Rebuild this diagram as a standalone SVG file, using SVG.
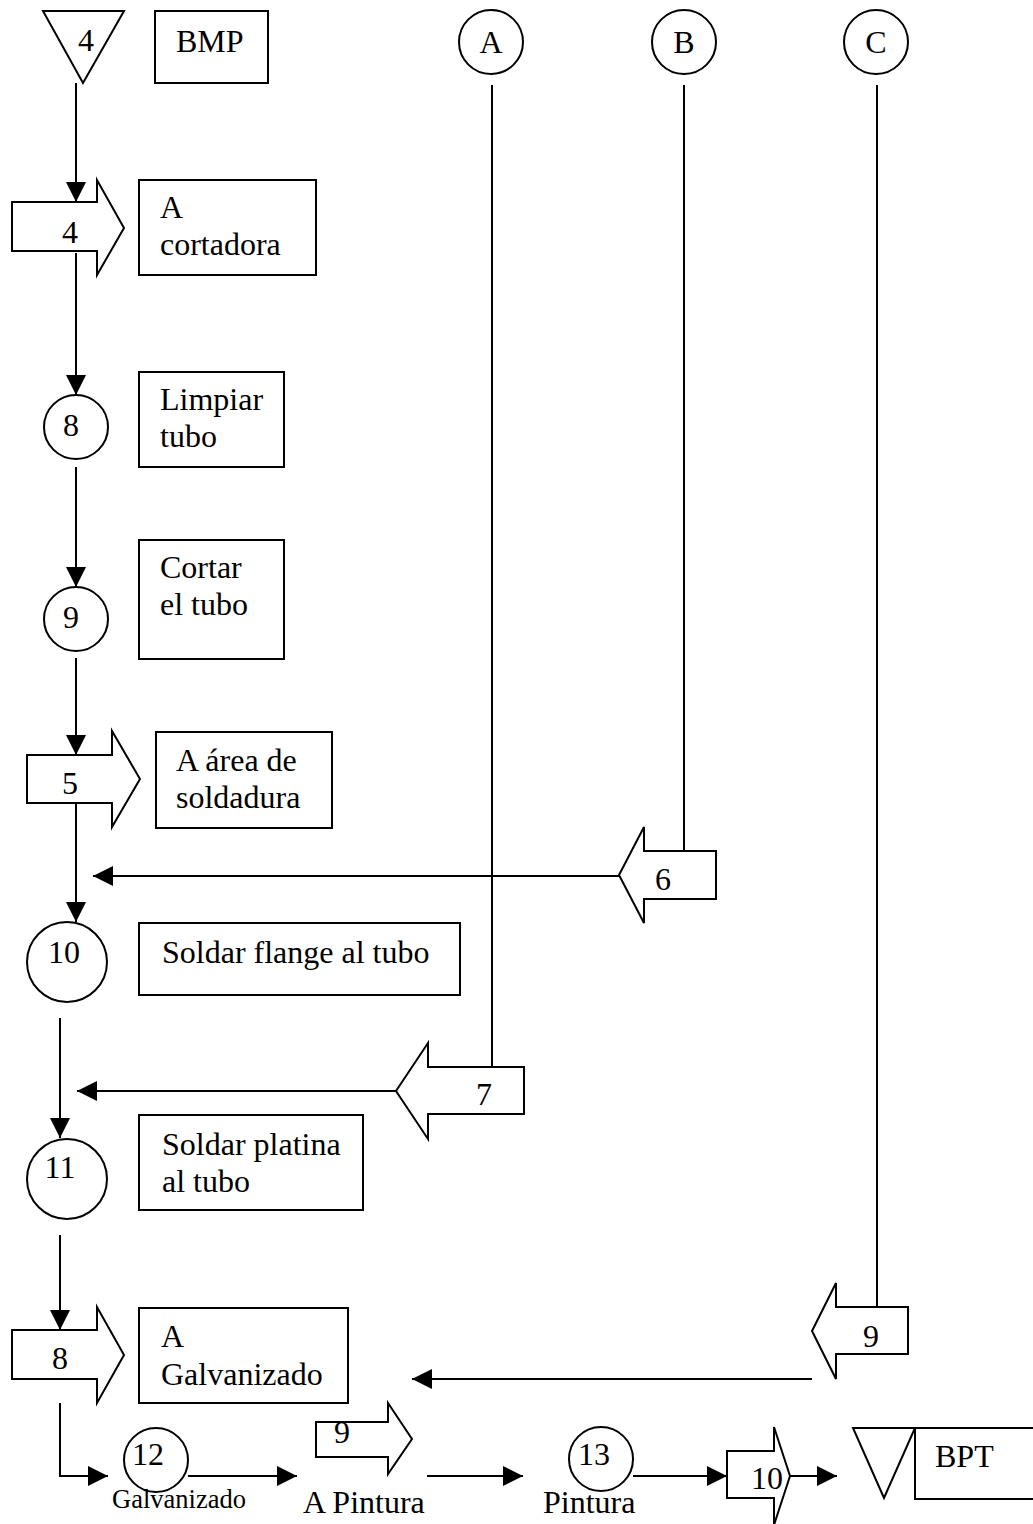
<svg xmlns="http://www.w3.org/2000/svg" width="1033" height="1524" viewBox="0 0 1033 1524">
  <style>
    .shape { fill: #fff; stroke: #000; stroke-width: 2; }
    .wire { fill: none; stroke: #000; stroke-width: 2; }
    .arr { marker-end: url(#head); }
    text { font-family: "Liberation Serif", "Times New Roman", serif; font-size: 32px; fill: #000; }
    .c { text-anchor: middle; }
    .small { font-size: 26.5px; }
  </style>
  <defs>
    <marker id="head" markerUnits="userSpaceOnUse" markerWidth="20" markerHeight="20" refX="20" refY="10" orient="auto">
      <path d="M0,0 L20,10 L0,20 Z" fill="#000"/>
    </marker>
  </defs>
  <rect width="1033" height="1524" fill="#fff"/>

  <!-- connectors -->
  <g id="connectors">
    <path class="wire arr" d="M76,83 V202"/>
    <path class="wire arr" d="M76,253 V395"/>
    <path class="wire arr" d="M76,467 V587"/>
    <path class="wire arr" d="M76,658 V755"/>
    <path class="wire arr" d="M76,803 V922"/>
    <path class="wire" d="M684,85 V851"/>
    <path class="wire arr" d="M619,876 H93"/>
    <path class="wire" d="M492,85 V1067"/>
    <path class="wire arr" d="M396,1091 H77"/>
    <path class="wire arr" d="M60,1018 V1138"/>
    <path class="wire arr" d="M60,1235 V1330"/>
    <path class="wire" d="M877,85 V1307"/>
    <path class="wire arr" d="M812,1379 H412"/>
    <path class="wire arr" d="M60,1403 V1476 H108"/>
    <path class="wire arr" d="M188,1476 H297"/>
    <path class="wire arr" d="M427,1476 H523"/>
    <path class="wire arr" d="M633,1476 H727"/>
    <path class="wire arr" d="M790,1476 H837"/>
  </g>

  <!-- storage: raw material -->
  <g id="store-bmp">
    <path class="shape" d="M43,11 H124 L83,83 Z"/>
    <text class="c" x="86" y="51">4</text>
    <rect class="shape" x="155" y="11" width="113" height="72"/>
    <text x="176" y="52">BMP</text>
  </g>

  <!-- off-page connectors -->
  <g id="conn-a">
    <circle class="shape" cx="491" cy="42" r="32"/>
    <text class="c" x="491" y="53">A</text>
  </g>
  <g id="conn-b">
    <circle class="shape" cx="684" cy="42" r="32"/>
    <text class="c" x="684" y="53">B</text>
  </g>
  <g id="conn-c">
    <circle class="shape" cx="876" cy="42" r="32"/>
    <text class="c" x="876" y="53">C</text>
  </g>

  <!-- transport 4 -->
  <g id="move-4">
    <path class="shape" d="M12,202 H97 V180 L124,228 L97,275 V251 H12 Z"/>
    <text class="c" x="70" y="243">4</text>
    <rect class="shape" x="139" y="180" width="177" height="95"/>
    <text x="160" y="218">A</text>
    <text x="160" y="255">cortadora</text>
  </g>

  <!-- operation 8 -->
  <g id="op-8">
    <circle class="shape" cx="76" cy="427" r="32"/>
    <text class="c" x="71" y="436">8</text>
    <rect class="shape" x="139" y="372" width="145" height="95"/>
    <text x="160" y="410">Limpiar</text>
    <text x="160" y="447">tubo</text>
  </g>

  <!-- operation 9 -->
  <g id="op-9">
    <circle class="shape" cx="76" cy="619" r="32"/>
    <text class="c" x="71" y="628">9</text>
    <rect class="shape" x="139" y="540" width="145" height="119"/>
    <text x="160" y="578">Cortar</text>
    <text x="160" y="615">el tubo</text>
  </g>

  <!-- transport 5 -->
  <g id="move-5">
    <path class="shape" d="M27,755 H112 V731 L140,779 L112,827 V803 H27 Z"/>
    <text class="c" x="70" y="794">5</text>
    <rect class="shape" x="156" y="732" width="176" height="96"/>
    <text x="176" y="771">A área de</text>
    <text x="176" y="808">soldadura</text>
  </g>

  <!-- transport 6 (from B) -->
  <g id="move-6">
    <path class="shape" d="M716,851 H644 V827 L619,875 L644,923 V899 H716 Z"/>
    <text class="c" x="663" y="890">6</text>
  </g>

  <!-- operation 10 -->
  <g id="op-10">
    <circle class="shape" cx="67" cy="962" r="40"/>
    <text class="c" x="64" y="963">10</text>
    <rect class="shape" x="139" y="923" width="321" height="72"/>
    <text x="162" y="963">Soldar flange al tubo</text>
  </g>

  <!-- transport 7 (from A) -->
  <g id="move-7">
    <path class="shape" d="M524,1067 H428 V1043 L396,1091 L428,1139 V1114 H524 Z"/>
    <text class="c" x="484" y="1105">7</text>
  </g>

  <!-- operation 11 -->
  <g id="op-11">
    <circle class="shape" cx="67" cy="1179" r="40"/>
    <text class="c" x="60" y="1178">11</text>
    <rect class="shape" x="139" y="1115" width="224" height="95"/>
    <text x="162" y="1155">Soldar platina</text>
    <text x="162" y="1192">al tubo</text>
  </g>

  <!-- transport 8 -->
  <g id="move-8">
    <path class="shape" d="M12,1330 H97 V1307 L124,1355 L97,1403 V1379 H12 Z"/>
    <text class="c" x="60" y="1369">8</text>
    <rect class="shape" x="139" y="1308" width="209" height="95"/>
    <text x="161" y="1347">A</text>
    <text x="161" y="1385">Galvanizado</text>
  </g>

  <!-- transport 9 (from C) -->
  <g id="move-9c">
    <path class="shape" d="M908,1307 H836 V1283 L812,1331 L836,1379 V1354 H908 Z"/>
    <text class="c" x="871" y="1347">9</text>
  </g>

  <!-- operation 12 -->
  <g id="op-12">
    <circle class="shape" cx="156" cy="1460" r="32"/>
    <text class="c" x="148" y="1465">12</text>
    <text class="small" x="112" y="1508">Galvanizado</text>
  </g>

  <!-- transport 9 -->
  <g id="move-9">
    <path class="shape" d="M316,1422 H388 V1403 L412,1439 L388,1474 V1457 H316 Z"/>
    <text class="c" x="342" y="1443">9</text>
    <text x="303" y="1513">A Pintura</text>
  </g>

  <!-- operation 13 -->
  <g id="op-13">
    <circle class="shape" cx="601" cy="1459" r="32"/>
    <text class="c" x="594" y="1465">13</text>
    <text x="543" y="1513">Pintura</text>
  </g>

  <!-- transport 10 -->
  <g id="move-10">
    <path class="shape" d="M727,1451 H774 V1427 L790,1476 L774,1525 V1498 H727 Z"/>
    <text class="c" x="767" y="1489">10</text>
  </g>

  <!-- storage: finished product -->
  <g id="store-bpt">
    <path class="shape" d="M853,1428 H915 L884,1498 Z"/>
    <rect class="shape" x="915" y="1428" width="130" height="71"/>
    <text x="935" y="1467">BPT</text>
  </g>
</svg>
